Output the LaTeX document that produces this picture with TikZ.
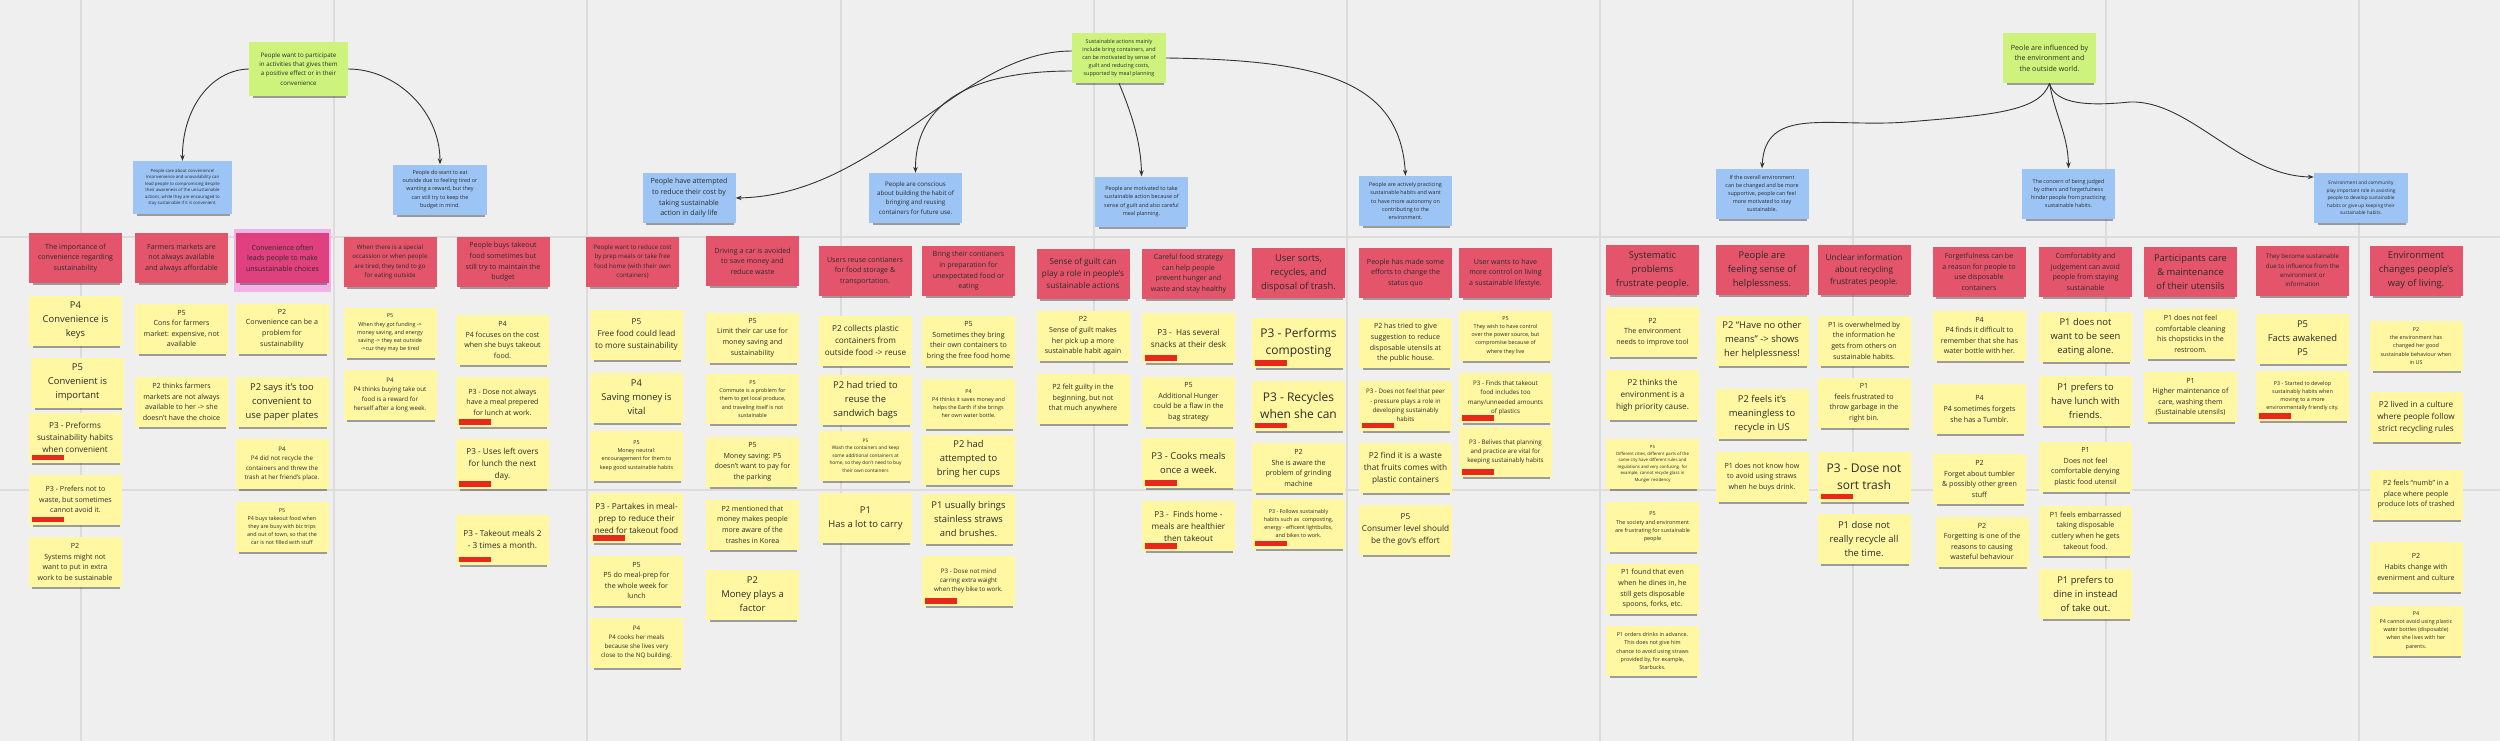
\documentclass[tikz,border=0pt]{standalone}
\usepackage{fontspec}
\setmainfont{Open Sans}
\usetikzlibrary{arrows.meta,shadows}
\definecolor{cBg}{HTML}{EFEFEF}
\definecolor{cGrid}{HTML}{DCDCDC}
\definecolor{cYel}{HTML}{FFF7A1}
\definecolor{cRed}{HTML}{E4556C}
\definecolor{cMag}{HTML}{E0407D}
\definecolor{cHil}{HTML}{F2B2E6}
\definecolor{cBlue}{HTML}{9CC4F4}
\definecolor{cGreen}{HTML}{CDF37D}
\definecolor{cTxt}{HTML}{2B2B2B}
\definecolor{cBar}{HTML}{E8281C}
\definecolor{cArr}{HTML}{333333}
\newcommand{\szX}{\fontsize{12}{17.5}\selectfont}
\newcommand{\szL}{\fontsize{9.4}{14}\selectfont}
\newcommand{\szM}{\fontsize{8.2}{12}\selectfont}
\newcommand{\szN}{\fontsize{7.1}{10.6}\selectfont}
\newcommand{\szS}{\fontsize{6.2}{9.3}\selectfont}
\newcommand{\szT}{\fontsize{5.4}{8.2}\selectfont}
\newcommand{\szV}{\fontsize{4.8}{7.5}\selectfont}
\newcommand{\szU}{\fontsize{4.3}{6.5}\selectfont}
\begin{document}
\begin{tikzpicture}[x=1pt,y=-1pt,
  note/.style={rectangle, minimum width=93pt, minimum height=50pt, inner sep=1pt, align=center, text=cTxt,
    drop shadow={shadow xshift=1pt, shadow yshift=-4pt, shadow scale=0.94, opacity=0.35, fill=black}},
  yel/.style={note, fill=cYel},
  red/.style={note, fill=cRed},
  mag/.style={note, fill=cMag},
  blu/.style={note, fill=cBlue},
  grn/.style={note, fill=cGreen},
  bar/.style={path picture={\fill[cBar] ([xshift=3pt,yshift=2.5pt]path picture bounding box.south west) rectangle ++(32pt,5.5pt);}},
  gridl/.style={draw=cGrid, line width=1.3pt},
  arr/.style={draw=cArr, line width=0.9pt, -{Stealth[length=6pt,width=4.5pt]}},
  link/.style={draw=cArr, line width=0.9pt}
]
\useasboundingbox (0,0) rectangle (2500,741);
\fill[cBg] (0,0) rectangle (2500,741);
\foreach \gx in {81,334,587,841,1094,1347,1600,1853,2106,2359} \draw[gridl] (\gx,0) -- (\gx,741);
\foreach \gy in {237,490} \draw[gridl] (0,\gy) -- (2500,\gy);

% ---------- green theme notes ----------
\node[grn,font=\szS,minimum width=99pt,minimum height=54pt] (g1) at (298.5,69) {People want to participate\\in activities that gives them\\a positive effect or in their\\convenience};
\node[grn,font=\szT,minimum width=94pt] (g2) at (1119,58) {Sustainable actions mainly\\include bring containers, and\\can be motivated by sense of\\guilt and reducing costs,\\supported by meal planning};
\node[grn,font=\szN] (g3) at (2049.5,58) {Peole are influenced by\\the environment and\\the outside world.};

% ---------- blue notes ----------
\node[blu,font=\szU,minimum width=99pt,minimum height=53pt] (b1) at (182.5,187.5) {People care about convenience!\\Inconvenience and unavailability can\\lead people to compromising despite\\their awareness of the unsustainable\\actions, while they are encouraged to\\stay sustainable if it is convenient.};
\node[blu,font=\szT,minimum width=94pt] (b2) at (440,189.5) {People do want to eat\\outside due to feeling tired or\\wanting a reward, but they\\can still try to keep the\\budget in mind.};
\node[blu,font=\szN] (b3) at (689,198) {People have attempted\\to reduce their cost by\\taking sustainable\\action in daily life};
\node[blu,font=\szS] (b4) at (915.5,198) {People are conscious\\about building the habit of\\bringing and reusing\\containers for future use.};
\node[blu,font=\szT] (b5) at (1141.5,201.5) {People are motivated to take\\sustainable action because of\\sense of guilt and also careful\\meal planning.};
\node[blu,font=\szT] (b6) at (1405.5,201) {People are actively practicing\\sustainable habits and want\\to have more autonomy on\\contributing to the\\environment.};
\node[blu,font=\szT] (b7) at (1762,193.5) {If the overall environment\\can be changed and be more\\supportive, people can feel\\more motivated to stay\\sustainable.};
\node[blu,font=\szT] (b8) at (2068.5,193.5) {The concern of being judged\\by others and forgetfulness\\hinder people from practicing\\sustainable habits.};
\node[blu,font=\szV,minimum width=94pt] (b9) at (2361,198) {Environment and community\\play important role in assisting\\people to develop sustainable\\habits or give up keeping their\\sustainable habits.};

% ---------- connectors ----------
\draw[arr] (g1.west) .. controls (210,70) and (182,110) .. (b1.north);
\draw[arr] (g1.east) .. controls (395,69) and (440,110) .. (b2.north);
\draw[arr] ([yshift=7pt]g2.west) .. controls (960,51) and (880,195) .. (b3.east);
\draw[arr] ([yshift=-13pt]g2.west) .. controls (960,71) and (915,110) .. (b4.north);
\draw[arr] (g2.south) .. controls (1130,110) and (1141,140) .. (b5.north);
\draw[arr] (g2.east) .. controls (1320,60) and (1400,80) .. (b6.north);
\draw[arr] (g3.south) .. controls (2040,112) and (1990,115) .. (1907,122) .. controls (1830,128) and (1765,105) .. (b7.north);
\draw[arr] (g3.south) .. controls (2055,115) and (2068,135) .. (b8.north);
\draw[arr] (g3.south) .. controls (2055,105) and (2090,106) .. (2130,102) .. controls (2190,100) and (2240,176) .. ([yshift=21pt]b9.west);

% ---------- red header notes ----------
\node[red,font=\szN] (r1) at (75.5,258) {The importance of\\convenience regarding\\sustainability};
\node[red,font=\szN] (r2) at (181.5,258) {Farmers markets are\\not always available\\and always affordable};
\fill[cHil] (234,229) rectangle (331,292);
\node[mag,font=\szN] (r3) at (282.5,258) {Convenience often\\leads people to make\\unsustainable choices};
\node[red,font=\szS] (r4) at (390,262) {When there is a special\\occassion or when people\\are tired, they tend to go\\for eating outside};
\node[red,font=\szN] (r5) at (503,262) {People buys takeout\\food sometimes but\\still try to maintain the\\budget};
\node[red,font=\szS] (r6) at (632.5,261.5) {People want to reduce cost\\by prep meals or take free\\food home (with their own\\containers)};
\node[red,font=\szN] (r7) at (752.5,261) {Driving a car is avoided\\to save money and\\reduce waste};
\node[red,font=\szN] (r8) at (865,271) {Users reuse contianers\\for food storage \&\\transportation.};
\node[red,font=\szN] (r9) at (968.5,271) {Bring their contianers\\in preparation for\\unexpectated food or\\eating};
\node[red,font=\szM] (r10) at (1083,273.5) {Sense of guilt can\\play a role in people's\\sustainable actions};
\node[red,font=\szN] (r11) at (1188.5,273.5) {Careful food strategy\\can help people\\prevent hunger and\\waste and stay healthy};
\node[red,font=\szL] (r12) at (1298.5,273) {User sorts,\\recycles, and\\disposal of trash.};
\node[red,font=\szN] (r13) at (1405.5,273) {People has made some\\efforts to change the\\status quo};
\node[red,font=\szN] (r14) at (1505.5,273) {User wants to have\\more control on living\\a sustainable lifestyle.};
\node[red,font=\szL] (r15) at (1652.5,270) {Systematic\\problems\\frustrate people.};
\node[red,font=\szL] (r16) at (1762,270) {People are\\feeling sense of\\helplessness.};
\node[red,font=\szM] (r17) at (1864,270) {Unclear information\\about recycling\\frustrates people.};
\node[red,font=\szN] (r18) at (1979,272) {Forgetfulness can be\\a reason for people to\\use disposable\\containers};
\node[red,font=\szN] (r19) at (2085.5,272) {Comfortablity and\\judgement can avoid\\people from staying\\sustainable};
\node[red,font=\szL] (r20) at (2190.5,272) {Participants care\\\& maintenance\\of their utensils};
\node[red,font=\szS] (r21) at (2302.5,270.5) {They become sustainable\\due to influence from the\\environment or\\information};
\node[red,font=\szL] (r22) at (2416,270.5) {Environment\\changes people's\\way of living.};

% ---------- yellow notes ----------
\node[yel,font=\szL] (y1a) at (75.5,320.5) {P4\\Convenience is\\keys};
\node[yel,font=\szL] (y1b) at (77.5,382.5) {P5\\Convenient is\\important};
\node[yel,bar,font=\szM] (y1c) at (75,437.5) {P3 - Preforms\\sustainability habits\\when convenient};
\node[yel,bar,font=\szN] (y1d) at (75.5,499.5) {P3 - Prefers not to\\waste, but sometimes\\cannot avoid it.};
\node[yel,font=\szN] (y1e) at (75,562) {P2\\Systems might not\\want to put in extra\\work to be sustainable};

\node[yel,font=\szN] (y2a) at (181.5,328.5) {P5\\Cons for farmers\\market: expensive, not\\available};
\node[yel,font=\szN] (y2b) at (181.5,402) {P2 thinks farmers\\markets are not always\\available to her -> she\\doesn't have the choice};

\node[yel,font=\szN] (y3a) at (282,328.5) {P2\\Convenience can be a\\problem for\\sustainability};
\node[yel,font=\szL] (y3b) at (282,402) {P2 says it's too\\convenient to\\use paper plates};
\node[yel,font=\szS] (y3c) at (282,464) {P4\\P4 did not recycle the\\containers and threw the\\trash at her friend's place.};
\node[yel,font=\szT] (y3d) at (282,526.5) {P5\\P4 buys takeout food when\\they are busy with biz trips\\and out of town, so that the\\car is not filled with stuff};

\node[yel,font=\szT] (y4a) at (390,333) {P5\\When they got funding ->\\money saving, and energy\\saving -> they eat outside\\->cuz they may be tired};
\node[yel,font=\szS] (y4b) at (390,395) {P4\\P4 thinks buying take out\\food is a reward for\\herself after a long week.};

\node[yel,font=\szN] (y5a) at (502.5,340) {P4\\P4 focuses on the cost\\when she buys takeout\\food.};
\node[yel,bar,font=\szN] (y5b) at (502.5,402) {P3 - Dose not always\\have a meal prepered\\for lunch at work.};
\node[yel,bar,font=\szM] (y5c) at (502.5,464) {P3 - Uses left overs\\for lunch the next\\day.};
\node[yel,bar,font=\szM] (y5d) at (502.5,539.5) {P3 - Takeout meals 2\\- 3 times a month.};

\node[yel,font=\szM] (y6a) at (636.5,334.5) {P5\\Free food could lead\\to more sustainability};
\node[yel,font=\szL] (y6b) at (636.5,397.5) {P4\\Saving money is\\vital};
\node[yel,font=\szT] (y6c) at (636.5,455.5) {P5\\Money neutral:\\encouragement for them to\\keep good sustainable habits};
\node[yel,bar,font=\szM] (y6d) at (636.5,518) {P3 - Partakes in meal-\\prep to reduce their\\need for takeout food};
\node[yel,font=\szN] (y6e) at (636.5,580.5) {P5\\P5 do meal-prep for\\the whole week for\\lunch};
\node[yel,font=\szS] (y6f) at (636.5,642.5) {P4\\P4 cooks her meals\\because she lives very\\close to the NQ building.};

\node[yel,font=\szN] (y7a) at (752.5,337.5) {P5\\Limit their car use for\\money saving and\\sustainability};
\node[yel,font=\szT] (y7b) at (752.5,399) {P5\\Commute is a problem for\\them to get local produce,\\and traveling itself is not\\sustainable};
\node[yel,font=\szN] (y7c) at (752.5,462) {P5\\Money saving: P5\\doesn't want to pay for\\the parking};
\node[yel,font=\szN] (y7d) at (752.5,524.5) {P2 mentioned that\\money makes people\\more aware of the\\trashes in Korea};
\node[yel,font=\szL] (y7e) at (752.5,594.5) {P2\\Money plays a\\factor};

\node[yel,font=\szM] (y8a) at (865.5,340.5) {P2 collects plastic\\containers from\\outside food -> reuse};
\node[yel,font=\szL] (y8b) at (865.5,400) {P2 had tried to\\reuse the\\sandwich bags};
\node[yel,font=\szV] (y8c) at (865.5,455.5) {P5\\Wash the containers and keep\\some additional containers at\\home, so they don't need to buy\\their own containers};
\node[yel,font=\szL] (y8d) at (865.5,518) {P1\\Has a lot to carry};

\node[yel,font=\szN] (y9a) at (968.5,341) {P5\\Sometimes they bring\\their own containers to\\bring the free food home};
\node[yel,font=\szT] (y9b) at (968.5,403.5) {P4\\P4 thinks it saves money and\\helps the Earth if she brings\\her own water bottle.};
\node[yel,font=\szL] (y9c) at (968.5,459.5) {P2 had\\attempted to\\bring her cups};
\node[yel,font=\szL] (y9d) at (968.5,518.5) {P1 usually brings\\stainless straws\\and brushes.};
\node[yel,bar,font=\szS] (y9e) at (968.5,581) {P3 - Dose not mind\\carring extra waight\\when they bike to work.};

\node[yel,font=\szN] (y10a) at (1083,336) {P2\\Sense of guilt makes\\her pick up a more\\sustainable habit again};
\node[yel,font=\szN] (y10b) at (1083,398.5) {P2 felt guilty in the\\beginning, but not\\that much anywhere};

\node[yel,bar,font=\szM] (y11a) at (1188.5,338) {P3 -\ \ Has several\\snacks at their desk};
\node[yel,font=\szN] (y11b) at (1188.5,402) {P5\\Additional Hunger\\could be a flaw in the\\bag strategy};
\node[yel,bar,font=\szL] (y11c) at (1188.5,463) {P3 - Cooks meals\\once a week.};
\node[yel,bar,font=\szM] (y11d) at (1188.5,526) {P3 -\ \ Finds home -\\meals are healthier\\then takeout};

\node[yel,bar,font=\szX] (y12a) at (1298.5,343) {P3 - Performs\\composting};
\node[yel,bar,font=\szX] (y12b) at (1298.5,405.5) {P3 - Recycles\\when she can};
\node[yel,font=\szN] (y12c) at (1298.5,468) {P2\\She is aware the\\problem of grinding\\machine};
\node[yel,bar,font=\szT] (y12d) at (1298.5,523.5) {P3 - Follows sustainably\\habits such as\ \ composting,\\energy - efficent lightbulbs,\\and bikes to work.};

\node[yel,font=\szN] (y13a) at (1405.5,343) {P2 has tried to give\\suggestion to reduce\\disposable utensils at\\the public house.};
\node[yel,bar,font=\szS] (y13b) at (1405.5,405.5) {P3 - Does not feel that peer\\- pressure plays a role in\\developing sustainably\\habits};
\node[yel,font=\szM] (y13c) at (1405.5,468) {P2 find it is a waste\\that fruits comes with\\plastic containers};
\node[yel,font=\szM] (y13d) at (1405.5,530) {P5\\Consumer level should\\be the gov's effort};

\node[yel,font=\szT] (y14a) at (1505.5,335.5) {P5\\They wish to have control\\over the power source, but\\compromise because of\\where they live};
\node[yel,bar,font=\szS] (y14b) at (1505.5,398) {P3 - Finds that takeout\\food includes too\\many/unneeded amounts\\of plastics};
\node[yel,bar,font=\szS] (y14c) at (1505.5,452) {P3 - Belives that planning\\and practice are vital for\\keeping sustainably habits};

\node[yel,font=\szN] (y15a) at (1652.5,332) {P2\\The environment\\needs to improve tool};
\node[yel,font=\szM] (y15b) at (1652.5,395) {P2 thinks the\\environment is a\\high priority cause.};
\node[yel,font=\szU] (y15c) at (1652.5,464) {P5\\Different cities, different parts of the\\same city have different rules and\\regulations and very confusing. for\\example, cannot recycle glass in\\Munger residency};
\node[yel,font=\szT] (y15d) at (1652.5,527) {P5\\The society and environment\\are frustrating for sustainable\\people};
\node[yel,font=\szN] (y15e) at (1652.5,589) {P1 found that even\\when he dines in, he\\still gets disposable\\spoons, forks, etc.};
\node[yel,font=\szT] (y15f) at (1652.5,651) {P1 orders drinks in advance.\\This does not give him\\chance to avoid using straws\\provided by, for example,\\Starbucks.};

\node[yel,font=\szL] (y16a) at (1762,340.5) {P2 “Have no other\\means” -> shows\\her helplessness!};
\node[yel,font=\szL] (y16b) at (1762,414) {P2 feels it's\\meaningless to\\recycle in US};
\node[yel,font=\szN] (y16c) at (1762,477) {P1 does not know how\\to avoid using straws\\when he buys drink.};

\node[yel,font=\szN] (y17a) at (1864,340.5) {P1 is overwhelmed by\\the information he\\gets from others on\\sustainable habits.};
\node[yel,font=\szN] (y17b) at (1864,403) {P1\\feels frustrated to\\throw garbage in the\\right bin.};
\node[yel,bar,font=\szX] (y17c) at (1864,476.5) {P3 - Dose not\\sort trash};
\node[yel,font=\szL] (y17d) at (1864,539) {P1 dose not\\really recycle all\\the time.};

\node[yel,font=\szN] (y18a) at (1979.5,335.5) {P4\\P4 finds it difficult to\\remember that she has\\water bottle with her.};
\node[yel,font=\szN] (y18b) at (1979.5,409) {P4\\P4 sometimes forgets\\she has a Tumblr.};
\node[yel,font=\szN] (y18c) at (1979.5,479) {P2\\Forget about tumbler\\\& possibly other green\\stuff};
\node[yel,font=\szN] (y18d) at (1982,541.5) {P2\\Forgetting is one of the\\reasons to causing\\wasteful behaviour};

\node[yel,font=\szL] (y19a) at (2085.5,337) {P1 does not\\want to be seen\\eating alone.};
\node[yel,font=\szL] (y19b) at (2085.5,400.5) {P1 prefers to\\have lunch with\\friends.};
\node[yel,font=\szN] (y19c) at (2085.5,467) {P1\\Does not feel\\comfortable denying\\plastic food utensil};
\node[yel,font=\szN] (y19d) at (2085.5,530.5) {P1 feels embarrassed\\taking disposable\\cutlery when he gets\\takeout food.};
\node[yel,font=\szL] (y19e) at (2085.5,594) {P1 prefers to\\dine in instead\\of take out.};

\node[yel,font=\szN] (y20a) at (2190.5,334) {P1 does not feel\\comfortable cleaning\\his chopsticks in the\\restroom.};
\node[yel,font=\szN] (y20b) at (2190.5,397) {P1\\Higher maintenance of\\care, washing them\\(Sustainable utensils)};

\node[yel,font=\szL] (y21a) at (2302.5,338.5) {P5\\Facts awakened\\P5};
\node[yel,bar,font=\szT] (y21b) at (2302.5,396) {P3 - Started to develop\\sustainably habits when\\moving to a more\\environmentally friendly city.};

\node[yel,font=\szT] (y22a) at (2416,346) {P2\\the environment has\\changed her good\\sustainable behaviour when\\in US};
\node[yel,font=\szM] (y22b) at (2416,417) {P2 lived in a culture\\where people follow\\strict recycling rules};
\node[yel,font=\szN] (y22c) at (2416,494.5) {P2 feels “numb” in a\\place where people\\produce lots of trashed};
\node[yel,font=\szN] (y22d) at (2416,567) {P2\\Habits change with\\evenirment and culture};
\node[yel,font=\szT] (y22e) at (2416,630.5) {P4\\P4 cannot avoid using plastic\\water bottles (disposable)\\when she lives with her\\parents.};
\end{tikzpicture}
\end{document}
